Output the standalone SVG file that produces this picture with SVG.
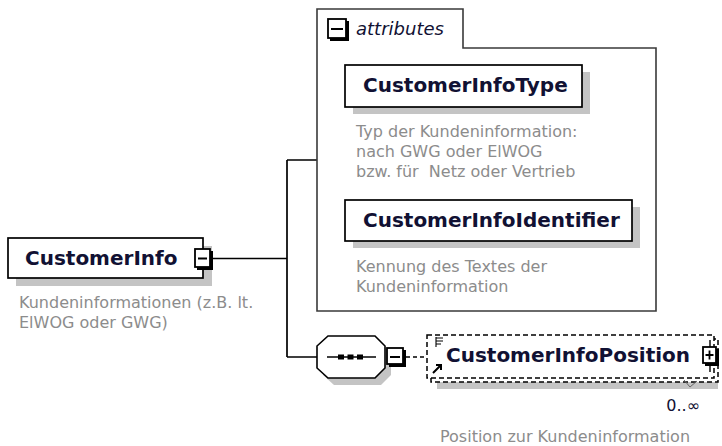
<svg xmlns="http://www.w3.org/2000/svg" width="722" height="446" viewBox="0 0 722 446">
<style>
.name{font-family:"DejaVu Sans",Tahoma,sans-serif;font-weight:bold;font-size:20px;fill:#111133}
.desc{font-family:"DejaVu Sans",Tahoma,sans-serif;font-size:16px;fill:#8c8c8c}
.shadow{fill:#c4c4c4}
.box{fill:#fff;stroke:#000;stroke-width:1.7}
.conn{fill:none;stroke:#000;stroke-width:1.7}
.ico{fill:#fff;stroke:#000;stroke-width:1.8}
.icos{fill:#000}
.dash{fill:#fff;stroke:#000;stroke-width:1.5;stroke-dasharray:5 3}
</style>
<rect width="722" height="446" fill="#fff"/>

<g id="connectors">
<path class="conn" d="M213,258.5 H287 M287,160 V357 M287,160 H317 M287,357 H317"/>
<path d="M406,357 H428" fill="none" stroke="#000" stroke-width="1.5" stroke-dasharray="4 3"/>
</g>

<g id="attributes">
<path d="M317,311 V9 H463 V48 H656 V311 Z" fill="#fff" stroke="#3a3a3a" stroke-width="1.6"/>
<rect class="icos" x="330" y="21" width="19" height="20"/>
<rect class="ico" x="328" y="19" width="18" height="19"/>
<path d="M331,29 H343" stroke="#000" stroke-width="2"/>
<text x="356" y="35" font-family="'DejaVu Sans',sans-serif" font-style="italic" font-size="18" fill="#111133">attributes</text>
</g>

<g id="CustomerInfo">
<rect class="shadow" x="16" y="246" width="196" height="40"/>
<rect class="box" x="8" y="238" width="195" height="40"/>
<text class="name" x="25" y="265">CustomerInfo</text>
<rect class="icos" x="197" y="251" width="16" height="19"/>
<rect class="ico" x="195" y="249" width="15" height="18"/>
<path d="M198,258.5 H207" stroke="#000" stroke-width="2"/>
<text class="desc" x="19" y="308">Kundeninformationen (z.B. lt.</text>
<text class="desc" x="19" y="328">ElWOG oder GWG)</text>
</g>

<g id="CustomerInfoType">
<rect class="shadow" x="353" y="72" width="237" height="42"/>
<rect class="box" x="345" y="65" width="237" height="42"/>
<text class="name" x="363" y="92">CustomerInfoType</text>
<text class="desc" x="356" y="137">Typ der Kundeninformation:</text>
<text class="desc" x="356" y="157">nach GWG oder ElWOG</text>
<text class="desc" x="356" y="177" xml:space="preserve">bzw. für  Netz oder Vertrieb</text>
</g>

<g id="CustomerInfoIdentifier">
<rect class="shadow" x="353" y="207" width="287" height="41"/>
<rect class="box" x="345" y="200" width="287" height="41"/>
<text class="name" x="363" y="227">CustomerInfoIdentifier</text>
<text class="desc" x="356" y="272">Kennung des Textes der</text>
<text class="desc" x="356" y="292">Kundeninformation</text>
</g>

<g id="sequence">
<path class="shadow" d="M334,343 H381 L391,353 V375 L381,385 H334 L323,375 V353 Z"/>
<path d="M328,336 H375 L385,346 V368 L375,378 H328 L317,368 V346 Z" fill="#fff" stroke="#000" stroke-width="1.6"/>
<path d="M327,357 H376" stroke="#000" stroke-width="1.6"/>
<rect x="338" y="354.5" width="6" height="5" fill="#000"/>
<rect x="347.5" y="354.5" width="6" height="5" fill="#000"/>
<rect x="357" y="354.5" width="6" height="5" fill="#000"/>
<rect class="icos" x="389" y="350" width="17" height="17"/>
<rect class="ico" x="387" y="348" width="16" height="16"/>
<path d="M390,357 H400" stroke="#000" stroke-width="2"/>
</g>

<g id="CustomerInfoPosition">
<rect class="shadow" x="437" y="346" width="281" height="43"/>
<rect class="dash" x="431" y="339" width="287" height="43"/>
<rect class="dash" x="427" y="335" width="287" height="43"/>
<path d="M436,338 H443 M436,341 H443 M436,344 H441 M436,337 V347" stroke="#000" stroke-width="1.1" fill="none"/>
<path d="M433,373 L440,366 M436,365 H441 V370" stroke="#000" stroke-width="2" fill="none"/>
<text class="name" x="446" y="362">CustomerInfoPosition</text>
<path d="M710,340 V347 M710,365 V372" stroke="#000" stroke-width="1.4"/>
<rect class="icos" x="705" y="349" width="14" height="17"/>
<rect class="ico" x="703" y="347" width="13" height="16"/>
<path d="M705.5,355 H713.5 M709.5,350.5 V359.5" stroke="#000" stroke-width="1.8"/>
<path d="M684,380 L690,387 L697,381" fill="none" stroke="#666" stroke-width="1"/>
<text x="700" y="411" text-anchor="end" font-family="'DejaVu Sans',sans-serif" font-size="16" fill="#111133">0..∞</text>
<text class="desc" x="440" y="442">Position zur Kundeninformation</text>
</g>
</svg>
